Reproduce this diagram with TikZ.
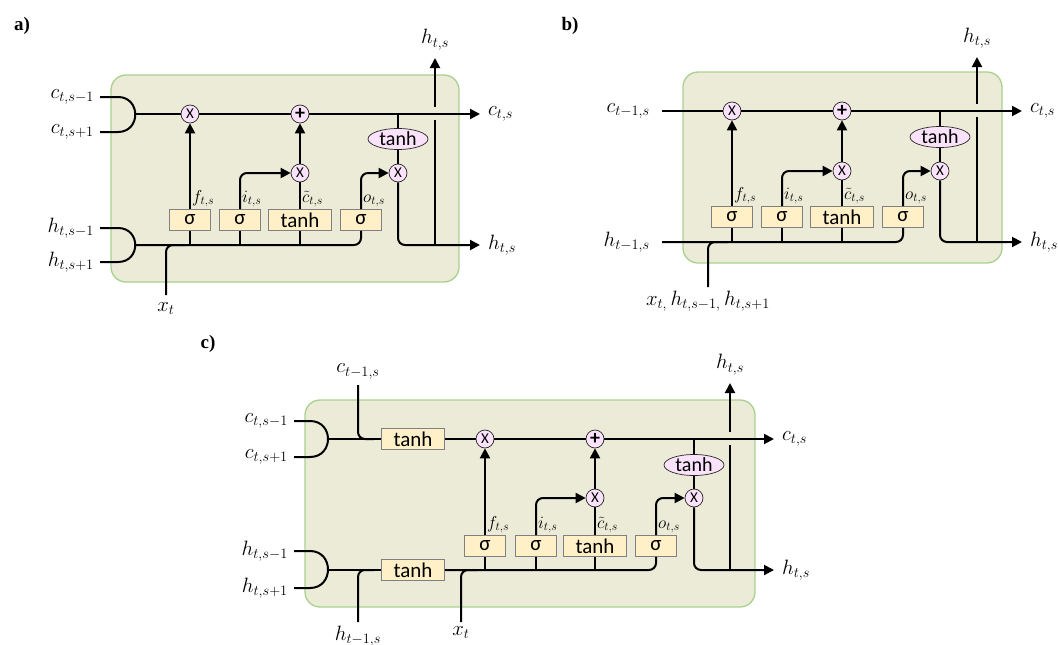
\documentclass[tikz,border=0pt]{standalone}
\usepackage{fontspec}
\setmainfont{Liberation Serif}
\setsansfont{Carlito}
\usepackage{tikz}
\usetikzlibrary{positioning, shapes.geometric, arrows.meta, calc}
\definecolor{cellfill}{HTML}{EBEBD8}
\definecolor{cellline}{HTML}{A9D18E}
\definecolor{gatefill}{HTML}{FFF0C8}
\definecolor{gateline}{HTML}{808080}
\definecolor{opfill}{HTML}{FBE2FB}

\begin{document}
\begin{tikzpicture}[x=1pt, y=-1pt,
    cell/.style={draw=cellline, fill=cellfill, line width=1.3pt, rounded corners=15pt},
    gate/.style={draw=gateline, fill=gatefill, line width=0.7pt, minimum width=41pt,
      minimum height=21pt, inner sep=0pt, font=\sffamily\fontsize{21}{21}\selectfont},
    wgate/.style={gate, minimum width=63pt},
    op/.style={circle, draw=black!85, fill=opfill, line width=0.7pt, minimum size=18pt,
      inner sep=0pt, font=\sffamily\fontsize{15}{15}\selectfont},
    sum/.style={op, font=\sffamily\bfseries\fontsize{20}{20}\selectfont},
    act/.style={ellipse, draw=black!85, fill=opfill, line width=0.7pt, minimum width=60pt,
      minimum height=21pt, inner sep=0pt, font=\sffamily\fontsize{20}{20}\selectfont},
    wire/.style={line width=2pt, rounded corners=7pt},
    arr/.style={wire, -{Triangle[length=10pt, width=10pt]}},
    lbl/.style={font=\fontsize{21}{23}\selectfont, inner sep=2pt},
    glbl/.style={font=\fontsize{18}{20}\selectfont, inner sep=2pt, anchor=south west},
    tag/.style={font=\bfseries\fontsize{19}{19}\selectfont}]
\useasboundingbox (0,0) rectangle (1058,645);

% --- a) ---
\node[tag] (tagA) at (22,26) {a)};
\draw[cell] (111,75) rectangle (459,282);
\coordinate (acA) at (100,97);  \coordinate (acB) at (100,132); \coordinate (acM) at (135.5,114);
\coordinate (ahA) at (100,228); \coordinate (ahB) at (100,262); \coordinate (ahM) at (135.5,245);
\coordinate (aco) at (480,114); \coordinate (aho) at (480,245);
\coordinate (aup) at (435,58);  \coordinate (axin) at (166,295);
\node[op] (ax1) at (190,114) {X};
\node[sum] (ap) at (300,114) {+};
\node[op] (ax2) at (300,173) {X};
\node[op] (ax3) at (398,173) {X};
\node[act] (at) at (398,139) {tanh};
\node[gate] (af) at (190,220) {σ};
\node[gate] (ai) at (240,220) {σ};
\node[wgate] (ac) at (300,220) {tanh};
\node[gate] (ao) at (361,220) {σ};
\foreach \p/\q in {acA/acB, ahA/ahB}
  \draw[wire, sharp corners] (\p) -- ++(18,0) .. controls +(23,0) and +(23,0) .. ($(\q)+(18,0)$) -- (\q);
\draw[wire] (acM) -- (ax1);
\draw[wire] (ax1) -- (ap);
\draw[arr] (ap) -- (aco);
\draw[wire] (at |- ax1) -- (at);
\draw[wire] (at) -- (ax3);
\draw[arr] (ax3) |- (aho);
\draw[wire] (aup |- aho) -- ($(aup |- ax1)+(0,6)$);
\draw[arr] ($(aup |- ax1)+(0,-7)$) -- (aup);
\draw[wire] (ahM) -| (ao);
\foreach \g in {af,ai,ac} \draw[wire] (\g |- ahM) -- (\g);
\draw[arr] (af) -- (ax1);
\draw[arr] (ai) |- (ax2);
\draw[wire] (ac) -- (ax2);
\draw[arr] (ax2) -- (ap);
\draw[arr] (ao) |- (ax3);
\draw[wire] (axin) |- ($(axin |- ahM)+(20,0)$);
\node[lbl, anchor=east] (lacA) at ($(acA)+(-4,0)$) {$c_{t,s-1}$};
\node[lbl, anchor=east] (lacB) at ($(acB)+(-4,0)$) {$c_{t,s+1}$};
\node[lbl, anchor=east] (lahA) at ($(ahA)+(-4,0)$) {$h_{t,s-1}$};
\node[lbl, anchor=east] (lahB) at ($(ahB)+(-4,0)$) {$h_{t,s+1}$};
\node[lbl, anchor=west] (laco) at ($(aco)+(6,0)$) {$c_{t,s}$};
\node[lbl, anchor=west] (laho) at ($(aho)+(6,0)$) {$h_{t,s}$};
\node[lbl, anchor=south] (laup) at ($(aup)+(0,-6)$) {$h_{t,s}$};
\node[lbl, anchor=north] (laxin) at ($(axin)+(0,5)$) {$x_t$};
\node[glbl] (laf) at (af.north) {$f_{t,s}$};
\node[glbl] (lai) at (ai.north) {$i_{t,s}$};
\node[glbl] (lac) at (ac.north) {$\tilde{c}_{t,s}$};
\node[glbl] (lao) at (ao.north) {$o_{t,s}$};

% --- b) ---
\node[tag] (tagB) at (570,26) {b)};
\draw[cell] (683,72) rectangle (1002,263);
\coordinate (bcA) at (662,111); \coordinate (bhA) at (662,242);
\coordinate (bco) at (1022,111); \coordinate (bho) at (1022,242);
\coordinate (bup) at (977,57);  \coordinate (bxin) at (708,287);
\node[op] (bx1) at (732,111) {X};
\node[sum] (bp) at (842,111) {+};
\node[op] (bx2) at (842,171) {X};
\node[op] (bx3) at (940,171) {X};
\node[act] (bt) at (940,137) {tanh};
\node[gate] (bf) at (732,217) {σ};
\node[gate] (bi) at (782,217) {σ};
\node[wgate] (bc) at (842,217) {tanh};
\node[gate] (bo) at (903,217) {σ};
\draw[wire] (bcA) -- (bx1);
\draw[wire] (bx1) -- (bp);
\draw[arr] (bp) -- (bco);
\draw[wire] (bt |- bx1) -- (bt);
\draw[wire] (bt) -- (bx3);
\draw[arr] (bx3) |- (bho);
\draw[wire] (bup |- bho) -- ($(bup |- bx1)+(0,6)$);
\draw[arr] ($(bup |- bx1)+(0,-7)$) -- (bup);
\draw[wire] (bhA) -| (bo);
\foreach \g in {bf,bi,bc} \draw[wire] (\g |- bhA) -- (\g);
\draw[arr] (bf) -- (bx1);
\draw[arr] (bi) |- (bx2);
\draw[wire] (bc) -- (bx2);
\draw[arr] (bx2) -- (bp);
\draw[arr] (bo) |- (bx3);
\draw[wire] (bxin) |- ($(bxin |- bhA)+(20,0)$);
\node[lbl, anchor=east] (lbcA) at ($(bcA)+(-10,0)$) {$c_{t-1,s}$};
\node[lbl, anchor=east] (lbhA) at ($(bhA)+(-10,0)$) {$h_{t-1,s}$};
\node[lbl, anchor=west] (lbco) at ($(bco)+(6,0)$) {$c_{t,s}$};
\node[lbl, anchor=west] (lbho) at ($(bho)+(6,0)$) {$h_{t,s}$};
\node[lbl, anchor=south] (lbup) at ($(bup)+(0,-6)$) {$h_{t,s}$};
\node[lbl, anchor=north] (lbxin) at ($(bxin)+(0,2)$) {$x_{t,}\,h_{t,s-1,}\,h_{t,s+1}$};
\node[glbl] (lbf) at (bf.north) {$f_{t,s}$};
\node[glbl] (lbi) at (bi.north) {$i_{t,s}$};
\node[glbl] (lbc) at (bc.north) {$\tilde{c}_{t,s}$};
\node[glbl] (lbo) at (bo.north) {$o_{t,s}$};

% --- c) ---
\node[tag] (tagC) at (208,344) {c)};
\draw[cell] (305,400) rectangle (755,607);
\coordinate (ccA) at (294,421); \coordinate (ccB) at (294,457); \coordinate (ccM) at (328,439);
\coordinate (chA) at (294,551); \coordinate (chB) at (294,588); \coordinate (chM) at (328,570);
\coordinate (cco) at (774,439); \coordinate (cho) at (774,570);
\coordinate (cup) at (730,383);
\coordinate (ccin) at (358,385); \coordinate (chin) at (358,622); \coordinate (cxin) at (461,622);
\node[wgate] (ctc) at (413,439) {tanh};
\node[wgate] (cth) at (413,570) {tanh};
\node[op] (cx1) at (485,439) {X};
\node[sum] (cp) at (595,439) {+};
\node[op] (cx2) at (595,498) {X};
\node[op] (cx3) at (694,498) {X};
\node[act] (ct) at (694,465) {tanh};
\node[gate] (cf) at (485,546) {σ};
\node[gate] (ci) at (536,546) {σ};
\node[wgate] (cc) at (595,546) {tanh};
\node[gate] (co) at (656,546) {σ};
\foreach \p/\q in {ccA/ccB, chA/chB}
  \draw[wire, sharp corners] (\p) -- ++(16,0) .. controls +(24,0) and +(24,0) .. ($(\q)+(16,0)$) -- (\q);
\draw[wire] (ccM) -- (ctc);
\draw[wire] (ccin) |- ($(ccin |- ctc)+(16,0)$);
\draw[wire] (ctc) -- (cx1);
\draw[wire] (cx1) -- (cp);
\draw[arr] (cp) -- (cco);
\draw[wire] (ct |- cx1) -- (ct);
\draw[wire] (ct) -- (cx3);
\draw[arr] (cx3) |- (cho);
\draw[wire] (cup |- cho) -- ($(cup |- cx1)+(0,6)$);
\draw[arr] ($(cup |- cx1)+(0,-7)$) -- (cup);
\draw[wire] (chM) -- (cth);
\draw[wire] (chin) |- ($(chin |- cth)+(16,0)$);
\draw[wire] (cth) -| (co);
\draw[wire] (cxin) |- ($(cxin |- cth)+(16,0)$);
\foreach \g in {cf,ci,cc} \draw[wire] (\g |- chM) -- (\g);
\draw[arr] (cf) -- (cx1);
\draw[arr] (ci) |- (cx2);
\draw[wire] (cc) -- (cx2);
\draw[arr] (cx2) -- (cp);
\draw[arr] (co) |- (cx3);
\node[lbl, anchor=east] (lccA) at ($(ccA)+(-4,0)$) {$c_{t,s-1}$};
\node[lbl, anchor=east] (lccB) at ($(ccB)+(-4,0)$) {$c_{t,s+1}$};
\node[lbl, anchor=east] (lchA) at ($(chA)+(-4,0)$) {$h_{t,s-1}$};
\node[lbl, anchor=east] (lchB) at ($(chB)+(-4,0)$) {$h_{t,s+1}$};
\node[lbl, anchor=west] (lcco) at ($(cco)+(6,0)$) {$c_{t,s}$};
\node[lbl, anchor=west] (lcho) at ($(cho)+(6,0)$) {$h_{t,s}$};
\node[lbl, anchor=south] (lcup) at ($(cup)+(0,-6)$) {$h_{t,s}$};
\node[lbl, anchor=south] (lccin) at ($(ccin)+(0,-4)$) {$c_{t-1,s}$};
\node[lbl, anchor=north] (lchin) at ($(chin)+(0,2)$) {$h_{t-1,s}$};
\node[lbl, anchor=north] (lcxin) at ($(cxin)+(0,2)$) {$x_t$};
\node[glbl] (lcf) at (cf.north) {$f_{t,s}$};
\node[glbl] (lci) at (ci.north) {$i_{t,s}$};
\node[glbl] (lcc) at (cc.north) {$\tilde{c}_{t,s}$};
\node[glbl] (lco) at (co.north) {$o_{t,s}$};
\end{tikzpicture}
\end{document}
